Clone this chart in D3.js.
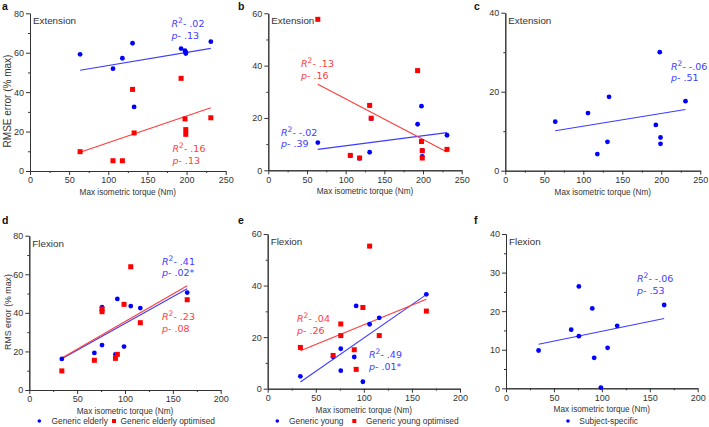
<!DOCTYPE html>
<html><head><meta charset="utf-8">
<script src="https://cdn.jsdelivr.net/npm/d3@7"></script>
<style>body{margin:0;background:#fff}svg{display:block}</style>
</head><body>
<script>
// ---------- data ----------
const extTorque = [64,106,118,131,133,193,198,199,199,231];
const flexTorque = [34,68,76,76,90,92,99,106,116,165];

const extGenericElderly    = [59.2,51.9,57.2,64.8,32.5,62.1,61.0,60.2,59.6,65.6];
const extGenericElderlyOpt = [9.8,5.2,5.2,41.4,19.3,47.0,26.4,21.0,18.6,27.0];
const extGenericYoung      = [10.6,5.6,4.6,6.9,19.8,17.6,24.5,7.6,5.3,13.4];
const extGenericYoungOpt   = [57.7,5.7,4.7,24.8,19.9,38.1,11.0,7.5,4.7,8.0];
const extSubject           = [12.4,14.6,4.2,7.3,18.7,11.6,30.0,8.4,6.8,17.6];

const flexGenericElderly    = [16.1,19.2,23.3,42.9,18.5,47.2,22.5,43.5,42.5,50.5];
const flexGenericElderlyOpt = [9.9,15.4,42.0,40.6,16.4,18.5,44.4,63.9,34.9,46.8];
const flexGenericYoung      = [4.8,12.4,15.5,7.0,12.3,32.1,2.7,25.0,27.5,36.6];
const flexGenericYoungOpt   = [16.0,12.9,25.1,20.6,15.1,7.5,31.5,55.3,20.6,30.1];
const flexSubject           = [9.8,15.2,26.4,13.5,20.7,7.9,0.2,10.5,16.2,21.6];

// regression line end points [x, y]
const fitExtElderly    = [[64,51.1],[231,62.2]];
const fitExtElderlyOpt = [[64,9.5],[231,32.1]];
const fitExtYoung      = [[64,8.0],[231,14.4]];
const fitExtYoungOpt   = [[64,32.9],[231,7.0]];
const fitExtSubject    = [[64,10.1],[231,15.5]];
const fitFlexElderly    = [[34,16.2],[165,52.5]];
const fitFlexElderlyOpt = [[34,16.6],[165,54.0]];
const fitFlexYoung      = [[34,2.6],[165,36.5]];
const fitFlexYoungOpt   = [[34,14.7],[165,34.7]];
const fitFlexSubject    = [[34,11.4],[165,18.1]];

const statsR2 = {aB:".02",aR:".16",bR:".13",bB:"-.02",c:"-.06",dB:".41",dR:".23",eR:".04",eB:".49",f:"-.06"};
const statsP  = {aB:".13",aR:".13",bR:".16",bB:".39",c:".51",dB:".02*",dR:".08",eR:".26",eB:".01*",f:".53"};

const panelLetters = ["a","b","c","d","e","f"];
const xTicksExt = [0,50,100,150,200,250];
const xTicksFlex = [0,50,100,150,200];
const xLabel = "Max isometric torque (Nm)";
const legendElderly = ["Generic elderly","Generic elderly optimised"];
const legendYoung = ["Generic young","Generic young optimised"];
const legendSubject = ["Subject-specific"];

// ---------- drawing ----------
const W = 709, H = 427;
const BLUE = "#0000ff", RED = "#ff0000";
const BLUE_L = "#3c3cff", RED_L = "#ff3c3c";
const FONT = "'Liberation Sans', Arial, sans-serif";
const svg = d3.select("body").append("svg").attr("width", W).attr("height", H)
  .style("font-family", FONT);

function styleAxis(ag) {
  ag.select(".domain").attr("stroke", "#333");
  ag.selectAll(".tick line").attr("stroke", "#333");
  ag.selectAll("text").attr("font-size", 9).attr("fill", "#333").attr("font-family", FONT);
}

function panel(cfg) {
  const x = d3.scaleLinear().domain([0, cfg.xmax]).range(cfg.xr);
  const y = d3.scaleLinear().domain([0, cfg.ymax]).range(cfg.yr);
  const g = svg.append("g");
  // axes
  const xAxis = d3.axisBottom(x).tickValues(cfg.xticks).tickSize(4).tickSizeOuter(0).tickPadding(2);
  const xMinor = d3.axisBottom(x).tickValues(d3.range(cfg.xminor, cfg.xmax, cfg.xminor * 2)).tickSize(2).tickFormat("").tickSizeOuter(0);
  const yTicks = d3.range(0, cfg.ymax + 0.001, cfg.ystep);
  const yAxis = d3.axisLeft(y).tickValues(yTicks).tickSize(4).tickSizeOuter(0).tickPadding(2);
  const yMinor = d3.axisLeft(y).tickValues(d3.range(cfg.ystep / 2, cfg.ymax, cfg.ystep)).tickSize(2).tickFormat("").tickSizeOuter(0);
  [xAxis, xMinor].forEach(a => styleAxis(g.append("g").attr("transform", `translate(0,${cfg.yr[0]})`).call(a)));
  [yAxis, yMinor].forEach(a => styleAxis(g.append("g").attr("transform", `translate(${cfg.xr[0]},0)`).call(a)));
  // x label
  g.append("text").attr("x", (cfg.xr[0] + cfg.xr[1]) / 2).attr("y", cfg.yr[0] + 24)
    .attr("text-anchor", "middle").attr("font-size", 8.2).attr("fill", "#333").text(xLabel);
  if (cfg.ylabel) {
    g.append("text").attr("transform", `translate(11,${cfg.ylabelY}) rotate(-90)`)
      .attr("text-anchor", "middle").attr("font-size", cfg.ylabelSize).attr("fill", "#333").text(cfg.ylabel);
  }
  // panel letter
  g.append("text").attr("x", cfg.letterPos[0]).attr("y", cfg.letterPos[1])
    .attr("font-size", 10.5).attr("font-weight", "bold").attr("fill", "#111").text(cfg.letter);
  // title
  g.append("text").attr("x", cfg.xr[0] + 3).attr("y", cfg.yr[1] + 11)
    .attr("font-size", 9.8).attr("fill", "#333").text(cfg.title);
  // fit lines
  const line = d3.line().x(d => x(d[0])).y(d => y(d[1]));
  cfg.series.forEach(s => {
    g.append("path").attr("d", line(s.fit)).attr("fill", "none")
      .attr("stroke", s.color === "blue" ? BLUE_L : RED_L).attr("stroke-width", 1.1);
  });
  // points
  cfg.series.forEach(s => {
    const pts = cfg.torque.map((t, i) => [t, s.vals[i]]);
    if (s.color === "blue") {
      g.append("g").selectAll("circle").data(pts).join("circle")
        .attr("cx", d => x(d[0])).attr("cy", d => y(d[1])).attr("r", 2.4).attr("fill", BLUE);
    } else {
      g.append("g").selectAll("rect").data(pts).join("rect")
        .attr("x", d => x(d[0]) - 2.5).attr("y", d => y(d[1]) - 2.5)
        .attr("width", 5).attr("height", 5).attr("fill", RED);
    }
  });
  // annotations
  cfg.notes.forEach(n => {
    const col = n.color === "blue" ? BLUE_L : RED_L;
    const t1 = g.append("text").attr("x", n.x).attr("y", n.y).attr("font-size", 9.5)
      .attr("fill", col).attr("font-family", "'DejaVu Sans', sans-serif");
    t1.append("tspan").attr("font-style", "italic").text("R");
    t1.append("tspan").attr("dy", -4).attr("font-size", 7.5).text("2");
    t1.append("tspan").attr("dy", 4).text("- " + n.r2);
    const t2 = g.append("text").attr("x", n.x).attr("y", n.y + 11.5).attr("font-size", 9.5)
      .attr("fill", col).attr("font-family", "'DejaVu Sans', sans-serif");
    t2.append("tspan").attr("font-style", "italic").text("p");
    t2.append("tspan").text("- " + n.p);
  });
  // legend
  if (cfg.legend) {
    cfg.legend.forEach(l => {
      if (l.color === "blue") {
        g.append("circle").attr("cx", l.x).attr("cy", 421).attr("r", 1.8).attr("fill", BLUE);
      } else {
        g.append("rect").attr("x", l.x - 2).attr("y", 419).attr("width", 4).attr("height", 4).attr("fill", RED);
      }
      g.append("text").attr("x", l.tx).attr("y", 424).attr("font-size", 8.4).attr("fill", "#333").text(l.text);
    });
  }
}

panel({letter: panelLetters[0], letterPos: [2, 10], title: "Extension", ylabel: "RMSE error (% max)",
  ylabelY: 101, ylabelSize: 10,
  xr: [30, 225.7], yr: [171, 13.3], xmax: 250, ymax: 80, ystep: 20, xticks: xTicksExt, xminor: 25,
  torque: extTorque,
  series: [{color: "blue", vals: extGenericElderly, fit: fitExtElderly},
           {color: "red", vals: extGenericElderlyOpt, fit: fitExtElderlyOpt}],
  notes: [{color: "blue", x: 171.5, y: 27, r2: statsR2.aB, p: statsP.aB},
          {color: "red", x: 172.5, y: 152, r2: statsR2.aR, p: statsP.aR}]});

panel({letter: panelLetters[1], letterPos: [238, 10], title: "Extension",
  xr: [268.3, 461.7], yr: [170.3, 13.3], xmax: 250, ymax: 60, ystep: 20, xticks: xTicksExt, xminor: 25,
  torque: extTorque,
  series: [{color: "blue", vals: extGenericYoung, fit: fitExtYoung},
           {color: "red", vals: extGenericYoungOpt, fit: fitExtYoungOpt}],
  notes: [{color: "red", x: 301, y: 67, r2: statsR2.bR, p: statsP.bR},
          {color: "blue", x: 281, y: 135.5, r2: statsR2.bB, p: statsP.bB}]});

panel({letter: panelLetters[2], letterPos: [474, 10], title: "Extension",
  xr: [505.3, 700.3], yr: [170.7, 12.7], xmax: 250, ymax: 40, ystep: 20, xticks: xTicksExt, xminor: 25,
  torque: extTorque,
  series: [{color: "blue", vals: extSubject, fit: fitExtSubject}],
  notes: [{color: "blue", x: 671, y: 69.5, r2: statsR2.c, p: statsP.c}]});

panel({letter: panelLetters[3], letterPos: [2, 224], title: "Flexion", ylabel: "RMS error (% max)",
  ylabelY: 312, ylabelSize: 8.8,
  xr: [29.3, 220.7], yr: [390, 235.7], xmax: 200, ymax: 80, ystep: 20, xticks: xTicksFlex, xminor: 25,
  torque: flexTorque,
  series: [{color: "blue", vals: flexGenericElderly, fit: fitFlexElderly},
           {color: "red", vals: flexGenericElderlyOpt, fit: fitFlexElderlyOpt}],
  notes: [{color: "blue", x: 162, y: 264.5, r2: statsR2.dB, p: statsP.dB},
          {color: "red", x: 162, y: 320, r2: statsR2.dR, p: statsP.dR}],
  legend: [{color: "blue", x: 39.3, tx: 51.5, text: legendElderly[0]},
           {color: "red", x: 114, tx: 120.5, text: legendElderly[1]}]});

panel({letter: panelLetters[4], letterPos: [238, 224], title: "Flexion",
  xr: [267.7, 460], yr: [388.7, 234], xmax: 200, ymax: 60, ystep: 20, xticks: xTicksFlex, xminor: 25,
  torque: flexTorque,
  series: [{color: "blue", vals: flexGenericYoung, fit: fitFlexYoung},
           {color: "red", vals: flexGenericYoungOpt, fit: fitFlexYoungOpt}],
  notes: [{color: "red", x: 297, y: 322, r2: statsR2.eR, p: statsP.eR},
          {color: "blue", x: 369, y: 358, r2: statsR2.eB, p: statsP.eB}],
  legend: [{color: "blue", x: 277.3, tx: 289, text: legendYoung[0]},
           {color: "red", x: 354.3, tx: 366, text: legendYoung[1]}]});

panel({letter: panelLetters[5], letterPos: [474, 224], title: "Flexion",
  xr: [506, 697.7], yr: [388.3, 234], xmax: 200, ymax: 40, ystep: 10, xticks: xTicksFlex, xminor: 25,
  torque: flexTorque,
  series: [{color: "blue", vals: flexSubject, fit: fitFlexSubject}],
  notes: [{color: "blue", x: 637, y: 282, r2: statsR2.f, p: statsP.f}],
  legend: [{color: "blue", x: 568, tx: 579.3, text: legendSubject[0]}]});
</script>
</body></html>
